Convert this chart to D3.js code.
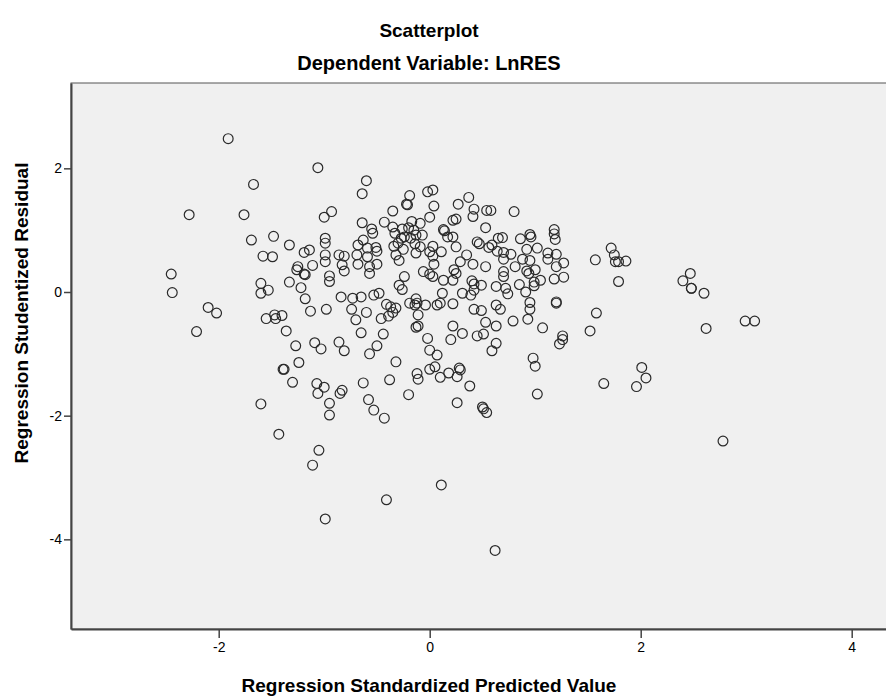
<!DOCTYPE html>
<html>
<head>
<meta charset="utf-8">
<script src="https://cdn.jsdelivr.net/npm/d3@7"></script>
<style>
    body { margin: 0; background: #ffffff; }
    text { font-family: "Liberation Sans", Arial, sans-serif; fill: #000; }
</style>
</head>
<body>
<svg id="SVG_CONTAINER" width="886" height="696"></svg>
<script>
// chart texts
const title = "Scatterplot";
const subTitle = "Dependent Variable: LnRES";
const xLabel = "Regression Standardized Predicted Value";
const yLabel = "Regression Studentized Residual";

// tick values
const xTicks = [-2, 0, 2, 4];
const yTicks = [2, 0, -2, -4];

// regression standardized predicted value
const predicted = [
    -1.91, -1.06, -1.67, -2.28, -1.76, -0.93, -1.00, -1.69, -1.48, -1.33,
    -1.58, -1.49, -1.19, -1.14, -0.99, -0.99, -0.99, -0.99, -1.25, -1.26,
    -1.19, -1.18, -1.11, -0.95, -0.95, -2.45, -2.44, -1.60, -1.33, -1.22,
    -1.53, -1.60, -1.18, -0.98, -2.10, -2.02, -2.21, -1.55, -1.47, -1.46,
    -1.40, -1.36, -1.13, -1.27, -1.09, -1.03, -1.24, -1.39, -1.38, -1.30,
    -1.07, -1.00, -1.06, -0.95, -0.95, -1.60, -1.43, -1.05, -1.11, -0.99,
    -0.41, 0.11, 0.62, -0.60, -0.64, -0.19, -0.22, -0.21, -0.02, 0.03,
    0.04, 0.00, 0.37, 0.27, 0.42, 0.41, 0.54, 0.58, -0.35, -0.43,
    -0.64, -0.55, -0.54, -0.35, -0.33, -0.26, -0.17, -0.09, -0.20, -0.15,
    -0.07, -0.24, -0.27, -0.34, -0.30, -0.18, -0.13, -0.14, -0.09, -0.25,
    -0.32, -0.29, -0.13, 0.03, 0.00, 0.03, 0.11, 0.04, 0.13, 0.14,
    0.22, 0.25, 0.17, 0.22, 0.25, 0.35, 0.29, 0.41, 0.53, 0.45,
    0.47, 0.56, 0.59, 0.64, 0.53, 0.65, -0.86, -0.81, -0.83, -0.81,
    -0.68, -0.63, -0.69, -0.68, -0.59, -0.59, -0.51, -0.50, -0.57, -0.57,
    -0.50, -0.06, 0.00, 0.03, -0.24, -0.29, -0.26, 0.13, 0.23, 0.25,
    0.22, 0.40, 0.42, 0.49, 0.63, -0.84, -0.73, -0.65, -0.53, -0.48,
    -0.13, 0.12, 0.31, 0.39, 0.42, -0.74, -0.60, -0.70, -0.65, -0.46,
    -0.41, -0.37, -0.32, -0.39, -0.35, -0.44, -0.86, -0.81, -0.57, -0.50,
    -0.32, -0.19, -0.14, -0.12, -0.04, -0.11, -0.13, -0.11, 0.07, 0.10,
    0.22, -0.02, 0.00, 0.07, 0.22, 0.20, 0.31, 0.42, 0.49, 0.53,
    0.45, 0.51, 0.63, 0.63, 0.63, 0.59, 0.00, 0.05, -0.12, -0.11,
    0.10, 0.18, 0.28, 0.29, 0.26, 0.38, -0.38, -0.63, -0.20, 0.26,
    0.50, 0.51, 0.54, -0.58, -0.53, -0.43, -0.85, -0.83, 0.80, 0.69,
    0.86, 0.95, 0.96, 1.18, 1.18, 1.19, 0.92, 1.02, 0.70, 0.77,
    0.70, 0.88, 0.95, 1.12, 1.12, 1.20, 1.20, 1.27, 0.81, 0.70,
    0.70, 0.92, 0.94, 1.00, 1.05, 0.99, 1.18, 1.27, 0.85, 0.72,
    0.74, 0.91, 0.99, 1.57, 1.72, 1.75, 1.76, 1.79, 1.86, 1.79,
    0.67, 0.95, 0.95, 1.20, 1.20, 1.58, 0.79, 0.93, 1.07, 1.52,
    1.26, 1.26, 1.23, 0.98, 1.00, 2.01, 2.05, 1.96, 1.65, 1.02,
    2.47, 2.40, 2.48, 2.48, 2.60, 2.62, 2.99, 3.08, 2.78
];

// regression studentized residual
const residual = [
    2.48, 2.01, 1.74, 1.25, 1.25, 1.30, 1.21, 0.84, 0.90, 0.76,
    0.58, 0.57, 0.64, 0.68, 0.87, 0.79, 0.60, 0.49, 0.41, 0.36,
    0.29, 0.28, 0.43, 0.26, 0.17, 0.29, -0.01, 0.14, 0.16, 0.07,
    0.03, -0.02, -0.11, -0.28, -0.25, -0.34, -0.64, -0.43, -0.37, -0.43,
    -0.38, -0.63, -0.31, -0.87, -0.82, -0.92, -1.14, -1.25, -1.25, -1.46,
    -1.48, -1.54, -1.64, -1.80, -1.99, -1.81, -2.30, -2.56, -2.80, -3.67,
    -3.36, -3.12, -4.18, 1.80, 1.59, 1.56, 1.42, 1.41, 1.62, 1.65,
    1.39, 1.21, 1.53, 1.42, 1.34, 1.22, 1.32, 1.32, 1.31, 1.13,
    1.12, 1.02, 0.95, 1.05, 0.95, 1.02, 1.14, 1.11, 1.04, 1.00,
    0.92, 0.89, 0.87, 0.74, 0.79, 0.87, 0.92, 0.78, 0.73, 0.69,
    0.60, 0.51, 0.63, 0.74, 0.65, 0.58, 0.65, 0.45, 1.01, 0.99,
    1.16, 1.18, 0.89, 0.89, 0.73, 0.60, 0.49, 0.45, 1.04, 0.81,
    0.78, 0.72, 0.76, 0.66, 0.41, 0.87, 0.60, 0.58, 0.44, 0.34,
    0.76, 0.84, 0.60, 0.45, 0.71, 0.57, 0.72, 0.66, 0.41, 0.30,
    0.45, 0.33, 0.29, 0.25, 0.25, 0.11, 0.04, 0.19, 0.36, 0.30,
    0.19, 0.18, 0.13, 0.11, 0.09, -0.08, -0.10, -0.08, -0.05, -0.02,
    -0.11, -0.02, -0.02, -0.05, 0.03, -0.28, -0.33, -0.45, -0.66, -0.43,
    -0.20, -0.24, -0.26, -0.39, -0.33, -0.68, -0.81, -0.95, -1.00, -0.87,
    -1.13, -0.18, -0.21, -0.18, -0.21, -0.37, -0.57, -0.55, -0.21, -0.18,
    -0.19, -0.75, -0.94, -1.02, -0.55, -0.77, -0.67, -0.28, -0.30, -0.49,
    -0.71, -0.68, -0.21, -0.55, -0.83, -0.95, -1.25, -1.21, -1.32, -1.41,
    -1.38, -1.31, -1.23, -1.26, -1.37, -1.52, -1.42, -1.47, -1.66, -1.79,
    -1.86, -1.89, -1.95, -1.74, -1.91, -2.04, -1.64, -1.59, 1.30, 0.88,
    0.86, 0.93, 0.89, 1.01, 0.94, 0.85, 0.69, 0.71, 0.64, 0.61,
    0.53, 0.53, 0.51, 0.63, 0.53, 0.61, 0.41, 0.47, 0.41, 0.33,
    0.25, 0.34, 0.30, 0.36, 0.19, 0.16, 0.21, 0.24, 0.12, 0.06,
    -0.03, 0.00, 0.10, 0.52, 0.71, 0.60, 0.49, 0.49, 0.50, 0.17,
    -0.28, -0.17, -0.28, -0.16, -0.18, -0.34, -0.47, -0.44, -0.58, -0.63,
    -0.71, -0.77, -0.84, -1.07, -1.20, -1.22, -1.39, -1.53, -1.48, -1.65,
    0.30, 0.18, 0.06, 0.06, -0.02, -0.59, -0.47, -0.47, -2.41
];

const MARGIN = { LEFT: 71, TOP: 83, BOTTOM: 629 };
const width = 886, height = 696;

let svg = d3.select("#SVG_CONTAINER");

//** SCALES *****************************************
let xScale = d3.scaleLinear()
    .domain([-3.4, 4.5])
    .range([MARGIN.LEFT, MARGIN.LEFT + 7.9 * 105.5]);

let yScale = d3.scaleLinear()
    .domain([-5.45, 3.38])
    .range([MARGIN.BOTTOM, MARGIN.TOP]);

//** PLOT AREA *****************************************
svg.append("rect")
    .attr("x", xScale.range()[0])
    .attr("y", MARGIN.TOP)
    .attr("width", xScale.range()[1] - xScale.range()[0])
    .attr("height", MARGIN.BOTTOM - MARGIN.TOP)
    .attr("fill", "#f0f0f0")
    .attr("stroke", "#555")
    .attr("stroke-width", 1);

//** POINTS *****************************************
let points = svg.append("g").attr("class", "points");
for (let i = 0; i < predicted.length; i++) {
    points.append("circle")
        .attr("cx", xScale(predicted[i]))
        .attr("cy", yScale(residual[i]))
        .attr("r", 4.9)
        .attr("fill", "none")
        .attr("stroke", "#2a2a2a")
        .attr("stroke-width", 1.2);
}

//** AXES *****************************************
// plain hyphen for negative labels, like the original
let fmt = d => String(d);

let xAxis = d3.axisBottom(xScale).tickValues(xTicks).tickSize(9).tickSizeOuter(0)
    .tickFormat(fmt);
let gx = svg.append("g")
    .attr("class", "x_axis")
    .attr("transform", "translate(0," + MARGIN.BOTTOM + ")")
    .call(xAxis);

let yAxis = d3.axisLeft(yScale).tickValues(yTicks).tickSize(7).tickSizeOuter(0)
    .tickFormat(fmt);
let gy = svg.append("g")
    .attr("class", "y_axis")
    .attr("transform", "translate(" + MARGIN.LEFT + ",0)")
    .call(yAxis);

[gx, gy].forEach(g => {
    g.select(".domain").attr("stroke", "#444").attr("stroke-width", 2);
    g.selectAll(".tick line").attr("stroke", "#444").attr("stroke-width", 1.5);
    g.selectAll(".tick text")
        .attr("fill", "#000")
        .style("font-family", "Liberation Sans, Arial, sans-serif")
        .style("font-size", "14px");
});
gx.selectAll(".tick text").attr("y", 13);
gy.selectAll(".tick text").attr("x", -9);

//** TITLES *****************************************
svg.append("text")
    .attr("x", 429).attr("y", 37)
    .attr("text-anchor", "middle")
    .style("font-size", "19px").style("font-weight", "bold")
    .text(title);

svg.append("text")
    .attr("x", 429).attr("y", 70)
    .attr("text-anchor", "middle")
    .style("font-size", "20px").style("font-weight", "bold")
    .text(subTitle);

svg.append("text")
    .attr("x", 429).attr("y", 692)
    .attr("text-anchor", "middle")
    .style("font-size", "19px").style("font-weight", "bold")
    .text(xLabel);

svg.append("text")
    .attr("transform", "translate(28,313) rotate(-90)")
    .attr("text-anchor", "middle")
    .style("font-size", "19px").style("font-weight", "bold")
    .text(yLabel);
</script>
</body>
</html>
